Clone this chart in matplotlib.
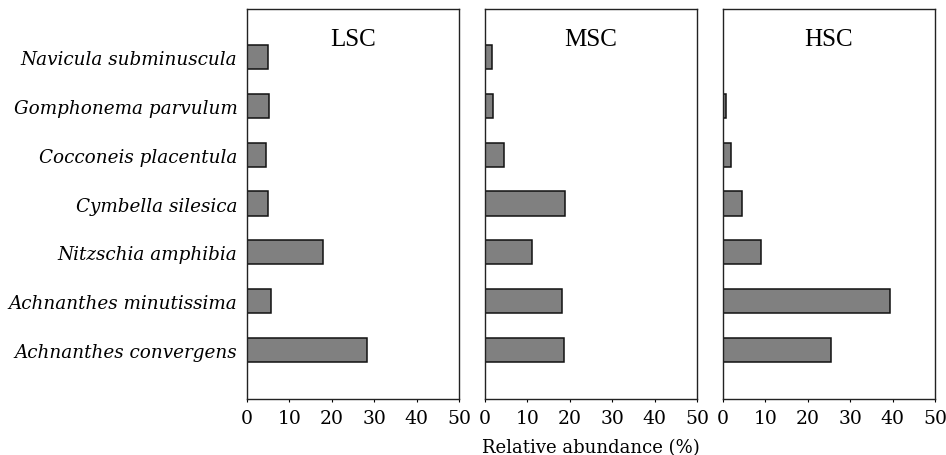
import matplotlib
matplotlib.use("Agg")
import matplotlib.pyplot as plt
import numpy as np

species = ["Navicula subminuscula", "Gomphonema parvulum", "Cocconeis placentula",
           "Cymbella silesica", "Nitzschia amphibia", "Achnanthes minutissima",
           "Achnanthes convergens"]
panels = ["LSC", "MSC", "HSC"]
lsc = [4.9, 5.2, 4.5, 4.9, 18.0, 5.6, 28.3]
msc = [1.6, 1.9, 4.4, 18.9, 11.1, 18.2, 18.6]
hsc = [0.0, 0.8, 2.0, 4.4, 9.0, 39.4, 25.5]
values = [lsc, msc, hsc]
xticks = [0, 10, 20, 30, 40, 50]

fig = plt.figure(figsize=(9.46, 4.56), dpi=100)
W, H = 946, 456
lefts = [247, 485, 723]
pw = 212
top, bottom = 9.5, 399.5

pos = np.arange(len(species))[::-1]
for i, (name, vals) in enumerate(zip(panels, values)):
    ax = fig.add_axes([lefts[i] / W, 1 - bottom / H, pw / W, (bottom - top) / H])
    bars = ax.barh(pos, vals, height=0.5, color="#808080", edgecolor="#111111", linewidth=1.1)
    for b, v in zip(bars, vals):
        if v <= 0:
            b.set_visible(False)
    ax.set_xlim(0, 50)
    ax.set_ylim(-1, len(species))
    ax.set_xticks(xticks)
    ax.set_xticklabels([str(t) for t in xticks], family="DejaVu Serif", fontsize=13.5)
    ax.tick_params(axis="x", direction="out", length=2.5, width=0.8, pad=5)
    if i == 0:
        ax.set_yticks(pos)
        ax.set_yticklabels(species, family="DejaVu Serif", style="italic", fontsize=13.2)
        ax.tick_params(axis="y", length=0, pad=7)
    else:
        ax.set_yticks([])
    for s in ax.spines.values():
        s.set_linewidth(1.0)
        s.set_color("#222222")
    ax.text(0.5, 0.921, name, transform=ax.transAxes, ha="center", va="center",
            family="Liberation Serif", fontsize=18)
    if i == 1:
        ax.set_xlabel("Relative abundance (%)", family="DejaVu Serif", fontsize=13,
                      labelpad=8)

fig.savefig("out.png", dpi=100)
